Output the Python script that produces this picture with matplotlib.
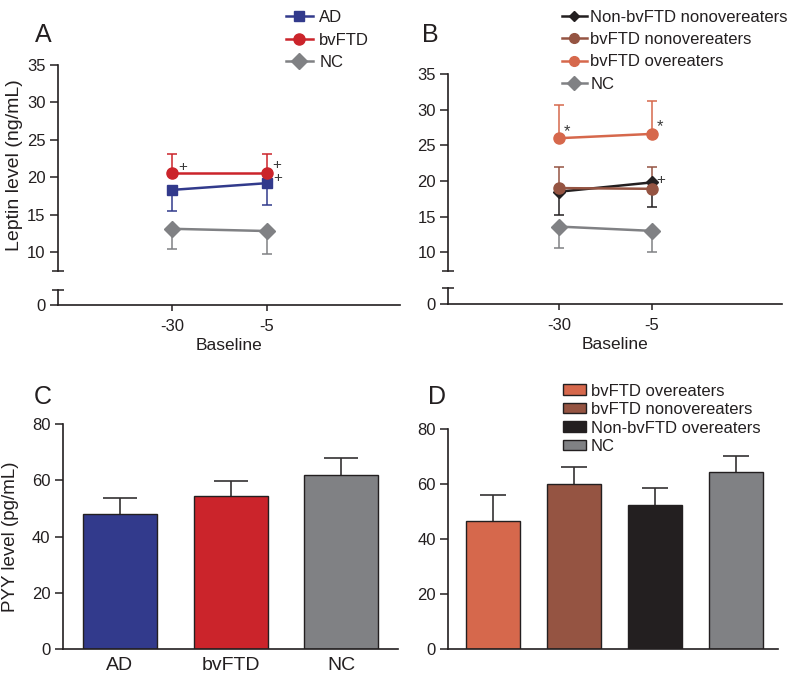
"""Leptin and PYY levels by diagnostic group (panels A-D)."""
import matplotlib

matplotlib.use("Agg")
import matplotlib.pyplot as plt
from matplotlib.lines import Line2D
from matplotlib.patches import Patch

plt.rcParams["font.family"] = ["Liberation Sans", "DejaVu Sans"]
plt.rcParams["axes.unicode_minus"] = False

INK = "#231f20"
BLUE = "#323a8c"
RED = "#cb242b"
GRAY = "#808184"
SALMON = "#d6684c"
BROWN = "#955442"

# --- panel A: leptin by diagnosis (mean, one-sided SEM) ---
time_points = [-30, -5]
ad_mean = [18.3, 19.2]
ad_err = [2.8, 2.9]
bvftd_mean = [20.5, 20.5]
bvftd_err = [2.6, 2.6]
nc_a_mean = [13.1, 12.8]
nc_a_err = [2.7, 3.1]

# --- panel B: leptin by eating behaviour ---
nonbv_mean = [18.5, 19.8]
nonbv_err = [3.3, 3.5]
bvnon_mean = [19.0, 18.9]
bvnon_err = [3.0, 3.1]
bvover_mean = [26.0, 26.6]
bvover_err = [4.65, 4.6]
nc_b_mean = [13.6, 13.0]
nc_b_err = [3.05, 2.9]

# --- panel C: PYY by diagnosis ---
c_groups = ["AD", "bvFTD", "NC"]
c_mean = [47.9, 54.6, 61.9]
c_err = [6.0, 5.2, 6.2]

# --- panel D: PYY by eating behaviour ---
d_groups = ["bvFTD overeaters", "bvFTD nonovereaters", "Non-bvFTD overeaters", "NC"]
d_mean = [46.7, 60.0, 52.4, 64.4]
d_err = [9.3, 6.3, 6.3, 5.9]


def _style(ax):
    for side in ("top", "right"):
        ax.spines[side].set_visible(False)
    for side in ("left", "bottom"):
        ax.spines[side].set_color(INK)
        ax.spines[side].set_linewidth(1.2)
    ax.tick_params(colors=INK, labelsize=12, width=1.1, length=5.5)


def _one_sided(ax, x, mean, err, color, up=True, capsize=3.5, lw=1.1, zorder=2):
    """Error bars drawn on one side only; the cap at the mean is hidden."""
    zeros = [0] * len(err)
    yerr = [zeros, err] if up else [err, zeros]
    _, caps, _ = ax.errorbar(x, mean, yerr=yerr, fmt="none", ecolor=color, elinewidth=lw,
                             capsize=capsize, capthick=lw, zorder=zorder)
    caps[0 if up else 1].set_visible(False)


def _broken_leptin_axes(fig, left, width, top_rect, bot_rect, top_low, bot_high):
    """Two stacked axes imitating a broken y axis (GraphPad style)."""
    ax_top = fig.add_axes([left, top_rect[0], width, top_rect[1]])
    ax_bot = fig.add_axes([left, bot_rect[0], width, bot_rect[1]])
    for ax in (ax_top, ax_bot):
        _style(ax)
        ax.patch.set_alpha(0)
        ax.set_xlim(-60, 30)
    ax_top.spines["bottom"].set_visible(False)
    ax_top.set_xticks([])
    ax_top.set_ylim(top_low, 35)
    ax_top.set_yticks([10, 15, 20, 25, 30, 35])
    ax_top.set_yticks([top_low], minor=True)
    ax_top.tick_params(axis="y", which="minor", direction="inout", length=8, width=1.1, color=INK)

    ax_bot.set_ylim(0, bot_high)
    ax_bot.set_yticks([0])
    ax_bot.set_yticks([bot_high], minor=True)
    ax_bot.tick_params(axis="y", which="minor", direction="inout", length=8, width=1.1, color=INK)
    ax_bot.set_xticks(time_points)
    ax_bot.set_xticklabels(["-30", "-5"])
    ax_bot.tick_params(axis="x", length=4, pad=6)
    ax_bot.set_xlabel("Baseline", fontsize=12.5, color=INK, labelpad=3)
    return ax_top, ax_bot


def _series(ax, mean, err, color, marker, ms, up, lw=1.8):
    _one_sided(ax, time_points, mean, err, color, up=up)
    ax.plot(time_points, mean, color=color, marker=marker, markersize=ms,
            linewidth=lw, zorder=3)


def _mark(ax, x, y, sym, dx, dy, size=11):
    ax.annotate(sym, xy=(x, y), xytext=(dx, dy), textcoords="offset points",
                ha="center", va="center", fontsize=size, color="#3a3a3a", zorder=5)


fig = plt.figure(figsize=(7.88, 6.74), dpi=100)

# ---------------- A ----------------
axA, axA_bot = _broken_leptin_axes(fig, 0.0736, 0.434, (0.5984, 0.3052), (0.5475, 0.0223), 7.5, 2)
_series(axA, nc_a_mean, nc_a_err, GRAY, "D", 8.5, up=False)
_series(axA, ad_mean, ad_err, BLUE, "s", 7.5, up=False)
_series(axA, bvftd_mean, bvftd_err, RED, "o", 8, up=True)
_mark(axA, -30, bvftd_mean[0], "+", 7.5, 4.5)
_mark(axA, -5, bvftd_mean[1], "+", 7, 6)
_mark(axA, -5, ad_mean[1], "+", 7.5, 4)
fig.text(0.019, 0.755, "Leptin level (ng/mL)", rotation=90, ha="center", va="center",
         fontsize=14, color=INK)

legA = [
    Line2D([], [], color=BLUE, marker="s", markersize=7, linewidth=1.8, label="AD"),
    Line2D([], [], color=RED, marker="o", markersize=8, linewidth=1.8, label="bvFTD"),
    Line2D([], [], color=GRAY, marker="D", markersize=8, linewidth=1.8, label="NC"),
]
fig.legend(handles=legA, loc="upper left", bbox_to_anchor=(0.363, 0.985), frameon=False,
           fontsize=12, handlelength=1.6, handletextpad=0.4, labelspacing=0.45,
           borderpad=0, borderaxespad=0, labelcolor=INK)

# ---------------- B ----------------
axB, axB_bot = _broken_leptin_axes(fig, 0.5689, 0.423, (0.5982, 0.292), (0.5490, 0.0233), 7.4, 2.2)
_series(axB, nc_b_mean, nc_b_err, GRAY, "D", 8.5, up=False)
_series(axB, nonbv_mean, nonbv_err, INK, "D", 6.5, up=False)
_series(axB, bvnon_mean, bvnon_err, BROWN, "o", 8, up=True)
_series(axB, bvover_mean, bvover_err, SALMON, "o", 8, up=True)
_mark(axB, -30, bvover_mean[0], "*", 5.5, 5, size=12)
_mark(axB, -5, bvover_mean[1], "*", 5.5, 5.5, size=12)
_mark(axB, -5, nonbv_mean[1], "+", 6.5, 2)

legB = [
    Line2D([], [], color=INK, marker="D", markersize=5.5, linewidth=1.8, label="Non-bvFTD nonovereaters"),
    Line2D([], [], color=BROWN, marker="o", markersize=7, linewidth=1.8, label="bvFTD nonovereaters"),
    Line2D([], [], color=SALMON, marker="o", markersize=7, linewidth=1.8, label="bvFTD overeaters"),
    Line2D([], [], color=GRAY, marker="D", markersize=7, linewidth=1.8, label="NC"),
]
fig.legend(handles=legB, loc="upper left", bbox_to_anchor=(0.713, 0.985), frameon=False,
           fontsize=12, handlelength=1.5, handletextpad=0.2, labelspacing=0.43,
           borderpad=0, borderaxespad=0, labelcolor=INK)

# ---------------- C ----------------
axC = fig.add_axes([0.0800, 0.0371, 0.4251, 0.3334])
_style(axC)
xc = range(len(c_groups))
axC.bar(xc, c_mean, width=0.667, color=[BLUE, RED, GRAY], edgecolor=INK, linewidth=1.0, zorder=2)
_one_sided(axC, xc, c_mean, c_err, "#333132", capsize=12, lw=1.2, zorder=1)
axC.set_xlim(-0.51, 2.51)
axC.set_ylim(0, 80)
axC.set_yticks([0, 20, 40, 60, 80])
axC.set_xticks(list(xc))
axC.set_xticklabels(c_groups, fontsize=14)
axC.tick_params(axis="x", length=0, pad=6)
fig.text(0.013, 0.2037, "PYY level (pg/mL)", rotation=90, ha="center", va="center",
         fontsize=13.5, color=INK)

# ---------------- D ----------------
axD = fig.add_axes([0.5689, 0.0371, 0.4184, 0.3264])
_style(axD)
xd = range(len(d_groups))
d_colors = [SALMON, BROWN, INK, GRAY]
axD.bar(xd, d_mean, width=0.665, color=d_colors, edgecolor=INK, linewidth=1.0, zorder=2)
_one_sided(axD, xd, d_mean, d_err, "#333132", capsize=9.5, lw=1.2, zorder=1)
axD.set_xlim(-0.55, 3.52)
axD.set_ylim(0, 80)
axD.set_yticks([0, 20, 40, 60, 80])
axD.set_xticks([])
legD = [Patch(facecolor=c, edgecolor=INK, linewidth=1.0, label=g) for c, g in zip(d_colors, d_groups)]
fig.legend(handles=legD, loc="upper left", bbox_to_anchor=(0.714, 0.431), frameon=False,
           fontsize=12, handlelength=1.4, handleheight=0.6, handletextpad=0.3,
           labelspacing=0.21, borderpad=0, borderaxespad=0, labelcolor=INK)

# panel letters
for x, y, letter in [(0.0546, 0.948, "A"), (0.5457, 0.948, "B"),
                     (0.0546, 0.411, "C"), (0.5546, 0.411, "D")]:
    fig.text(x, y, letter, ha="center", va="center", fontsize=18, color=INK)

fig.savefig("out.png", dpi=100)
plt.close(fig)
